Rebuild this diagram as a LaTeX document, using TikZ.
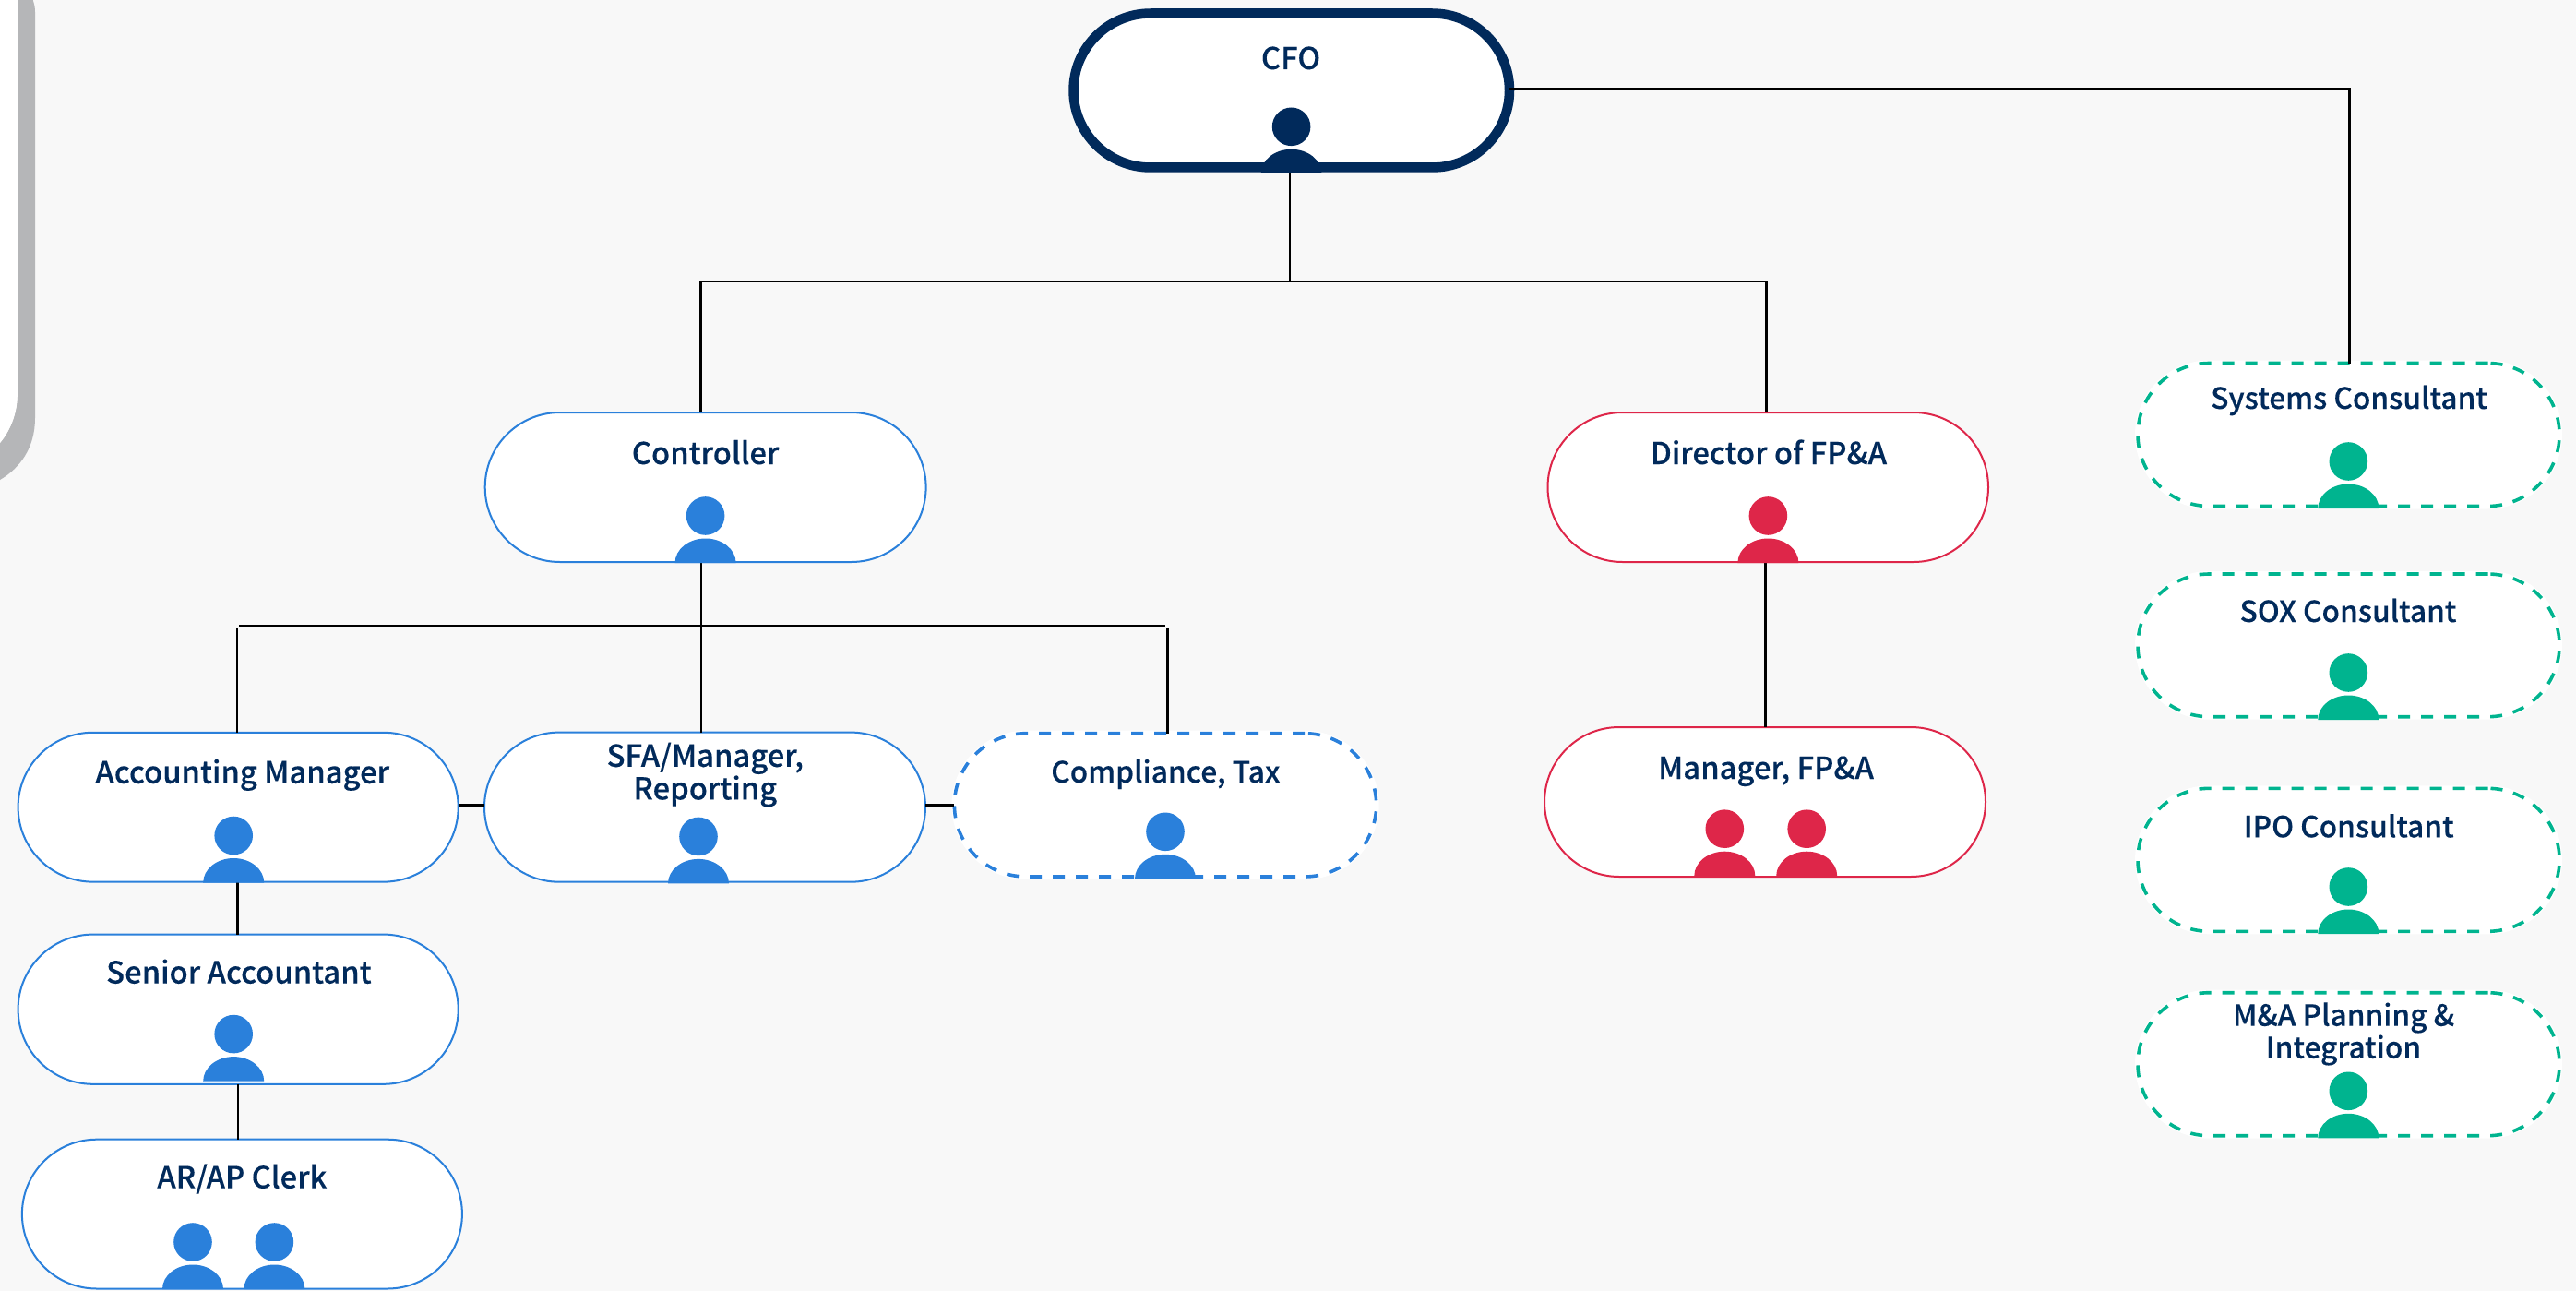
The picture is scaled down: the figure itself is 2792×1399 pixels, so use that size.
\documentclass[tikz,border=0pt]{standalone}
\usepackage{fontspec}
\setmainfont{Noto Sans CJK SC}[UprightFont=* Medium,FakeBold=0.12]
\usetikzlibrary{calc}
\definecolor{pagebg}{HTML}{F8F8F8}
\definecolor{navy}{HTML}{012A5B}
\definecolor{blueC}{HTML}{2A80DB}
\definecolor{redC}{HTML}{DE2649}
\definecolor{greenC}{HTML}{00B48F}
\definecolor{grayC}{HTML}{B5B6B8}
\tikzset{
  pillbase/.style={rectangle, inner sep=0pt, outer sep=0pt, fill=white},
  solidpill/.style={pillbase, draw=#1, line width=2pt},
  dashpill/.style={pillbase, draw=#1, line width=3.6pt, dash pattern=on 13pt off 12pt,
    preaction={draw=white, solid, line width=6pt}},
  toppill/.style={pillbase, draw=navy, line width=10.5pt},
  conn/.style={draw=black, line width=2.4pt},
  connb/.style={draw=black, line width=3pt},
  lbl/.style={inner sep=0pt, outer sep=0pt, text=navy, anchor=base, align=center,
    font=\fontsize{32.8}{35.5}\selectfont},
  lblsmall/.style={lbl, font=\fontsize{31.7}{35}\selectfont},
}
% name, style, left, top, right, bottom
\newcommand{\pill}[6]{%
  \node[#2, minimum width={(#5)-(#3)}, minimum height={(#6)-(#4)},
        rounded corners={((#6)-(#4))/2}] (#1) at ({((#3)+(#5))/2},{((#4)+(#6))/2}) {};}
% colour, cx, head cy
\newcommand{\person}[3]{%
  \fill[#1] (#2,#3) circle[radius=20.8];
  \fill[#1] ({#2-33},{#3+51}) arc[start angle=180, end angle=360, x radius=33, y radius=26.5] -- cycle;}
\begin{document}
\begin{tikzpicture}[x=1pt,y=-1pt]
\useasboundingbox (0,0) rectangle (2792,1399);
\fill[pagebg] (0,0) rectangle (2792,1399);
% clipped panel at the left edge
\fill[grayC] (18.8,0) -- (35.7,0) .. controls (37,4) and (38,8) .. (38,13) -- (38,453)
  .. controls (38,485) and (22,507) .. (0,520) -- (0,480)
  .. controls (11,467) and (18.8,448) .. (18.8,428) -- cycle;
\fill[white] (0,0) -- (18.8,0) -- (18.8,428) .. controls (18.8,448) and (11,467) .. (0,480) -- cycle;
% pills
\pill{cfo}{toppill}{1163.5}{14.5}{1636}{181.5}
\pill{ctrl}{solidpill=blueC}{525.7}{447}{1003.6}{609}
\pill{dir}{solidpill=redC}{1677.5}{447}{2155}{609}
\pill{mgr}{solidpill=redC}{1674}{788}{2152}{950}
\pill{am}{solidpill=blueC}{19.6}{793.8}{496.7}{955.6}
\pill{sfa}{solidpill=blueC}{525}{793.6}{1003}{955.7}
\pill{comp}{dashpill=blueC}{1034.4}{794.7}{1491.7}{950}
\pill{sa}{solidpill=blueC}{19.6}{1012.6}{496.7}{1174.8}
\pill{ar}{solidpill=blueC}{23.9}{1234.7}{500.9}{1396.5}
\pill{sys}{dashpill=greenC}{2317}{393.5}{2774}{548.5}
\pill{sox}{dashpill=greenC}{2317}{622}{2774}{776.7}
\pill{ipo}{dashpill=greenC}{2317}{854.3}{2774}{1009.3}
\pill{ma}{dashpill=greenC}{2317}{1075.7}{2774}{1230.7}
% routing points
\coordinate (busL) at (759.6,305);
\coordinate (busM) at (1397.7,305);
\coordinate (busR) at (1914.3,305);
\coordinate (sysBend) at (2546.7,96.7);
\coordinate (subM) at (760.2,678);
\coordinate (subLh) at (259,678);
\coordinate (subRh) at (1263,678);
\coordinate (subLv) at (256.7,680);
\coordinate (subRv) at (1265,681);
\coordinate (amDrop) at (257.5,985);
\coordinate (saDrop) at (258,1205);
\coordinate (dirDrop) at (1913.6,700);
\coordinate (sideY) at (0,872.5);
% connectors
\draw[conn] (cfo.south -| busM) -- (busM);
\draw[conn] (busL) -- (busR);
\draw[conn] (busL) -- (ctrl.north -| busL);
\draw[conn] (busR) -- (dir.north -| busR);
\draw[connb] (cfo.east |- sysBend) -- (sysBend) -- (sys.north -| sysBend);
\draw[conn] (ctrl.south -| subM) -- (sfa.north -| subM);
\draw[conn] (subLh) -- (subRh);
\draw[conn] (subLv) -- (am.north -| subLv);
\draw[connb] (subRv) -- (comp.north -| subRv);
\draw[conn] (am.south -| amDrop) -- (sa.north -| amDrop);
\draw[conn] (sa.south -| saDrop) -- (ar.north -| saDrop);
\draw[connb] (am.east |- sideY) -- (sfa.west |- sideY);
\draw[connb] (sfa.east |- sideY) -- (comp.west |- sideY);
\draw[conn] (dir.south -| dirDrop) -- (mgr.north -| dirDrop);
% people
\begin{scope}
\clip (1300,100) rectangle (1500,186.7);
\person{navy}{1399.6}{137.3}
\end{scope}
\person{blueC}{764.6}{559}
\person{redC}{1916.4}{559}
\person{redC}{1869.3}{898.2}
\person{redC}{1958.2}{898.2}
\person{blueC}{253.2}{905.5}
\person{blueC}{757}{906.4}
\person{blueC}{1263}{901.3}
\person{blueC}{253.2}{1120.6}
\person{blueC}{209}{1346}
\person{blueC}{297.4}{1346}
\person{greenC}{2545.3}{500}
\person{greenC}{2545.3}{729}
\person{greenC}{2545.3}{961}
\person{greenC}{2545.3}{1182.3}
% labels
\node[lbl] (tcfo) at (1399,75) {CFO};
\node[lbl] (tctrl) at (764.6,503) {Controller};
\node[lbl] (tdir) at (1917,503) {Director of FP\&A};
\node[lbl] (tmgr) at (1914,844) {Manager, FP\&A};
\node[lbl] (tam) at (262.7,848.8) {Accounting Manager};
\node[lbl] (tsfa) at (764.3,866.4) {SFA/Manager,\\Reporting};
\node[lblsmall] (tcomp) at (1263.4,848) {Compliance, Tax};
\node[lbl] (tsa) at (258.9,1065.6) {Senior Accountant};
\node[lbl] (tar) at (262.4,1287.7) {AR/AP Clerk};
\node[lblsmall] (tsys) at (2546,443) {Systems Consultant};
\node[lblsmall] (tsox) at (2545,674) {SOX Consultant};
\node[lblsmall] (tipo) at (2545.7,907.3) {IPO Consultant};
\node[lblsmall] (tma) at (2540,1146.7) {M\&A Planning \&\\Integration};
\end{tikzpicture}
\end{document}
